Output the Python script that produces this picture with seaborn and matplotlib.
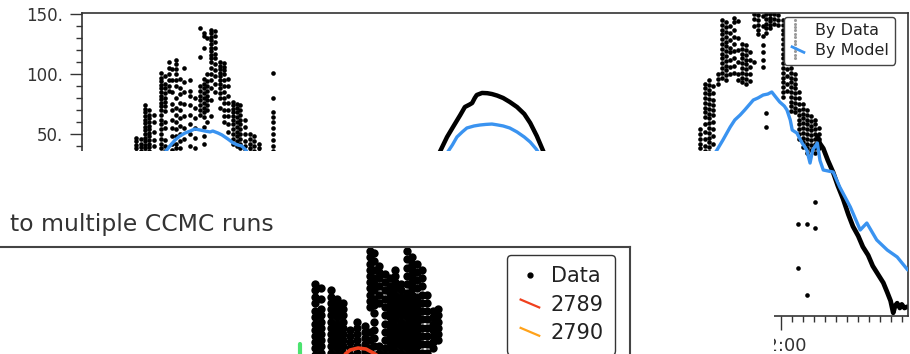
import numpy as np
import pandas as pd
import matplotlib
matplotlib.use("Agg")
import matplotlib.pyplot as plt
import seaborn as sns
from matplotlib.lines import Line2D
from matplotlib.patches import Rectangle
from matplotlib.legend_handler import HandlerBase
from matplotlib.ticker import MultipleLocator, FuncFormatter

sns.set_style("white")
plt.rcParams['font.family'] = ['DejaVu Sans']

# ---------------- top chart data (x in hours, y in flux units) ----------------
c1_x = [2.23, 2.30, 2.37, 2.42, 2.50, 2.60, 2.67, 2.72, 2.78, 2.84, 2.89, 2.96, 3.05, 3.12, 3.19,
        3.25, 3.30, 3.37, 3.43, 3.50, 3.56, 3.62, 3.69, 3.75, 3.81, 3.88, 3.95, 4.02, 4.09, 4.30]
c1_y = [
    [47, 44, 41, 38, 35],
    [46, 42, 39, 36],
    [74, 71, 68, 65, 62, 59, 56, 53, 50, 47, 44, 41, 38, 35],
    [70, 66, 63, 60, 57, 54, 51, 48, 45, 42, 39, 36],
    [66, 60, 52, 45, 40],
    [101, 97, 94, 91, 88, 85, 82, 79, 76, 73, 70, 66, 62, 58, 54, 50, 46, 42, 38],
    [98, 92, 88, 84, 80, 77, 73, 69, 60, 55, 45, 40, 36],
    [110, 105, 100, 95, 90, 86],
    [104, 95, 85, 75, 70, 62, 55, 48, 42, 37],
    [112, 108, 104, 100, 95, 90, 80, 72, 66, 60, 54, 48, 42, 38],
    [96, 88, 83, 76, 70, 63, 57, 50, 44, 38],
    [105, 93, 85, 75, 65, 55, 46],
    [95, 86, 82, 74, 66, 58, 50, 40],
    [80, 72, 63, 55, 47, 38],
    [138, 114, 90, 86, 82, 78, 74, 70, 66],
    [134, 132, 122, 96, 92, 88, 84, 80, 76, 72, 68, 64, 56, 48, 42],
    [130, 100, 94, 90, 86, 82, 78, 74, 70, 60],
    [137, 134, 131, 128, 125, 122, 119, 116, 113, 110, 105, 100, 95, 88, 78, 65],
    [136, 132, 127, 122, 117, 113, 108, 103, 98, 92, 85],
    [110, 107, 104, 101, 98, 95, 92, 88, 84, 80, 72],
    [109, 106, 103, 100, 95, 90, 85, 80, 76, 70, 65, 60],
    [96, 90, 82, 76, 70, 65, 58, 52],
    [77, 74, 71, 68, 65, 62, 58, 54, 50, 46, 42],
    [75, 72, 68, 64, 60, 56, 52, 48, 44, 40],
    [74, 70, 66, 62, 58, 54, 50, 46, 42, 38],
    [62, 56, 50, 44, 40, 36],
    [50, 46, 42, 38, 35],
    [48, 44, 40, 36],
    [42, 38, 35],
    [101, 80, 68, 64, 60, 55, 50, 45, 40, 36],
]

c3_x = [10.78, 10.85, 10.91, 10.97, 11.05, 11.11, 11.17, 11.23, 11.29, 11.35, 11.41, 11.47, 11.53,
        11.59, 11.65, 11.72, 11.77, 11.83, 11.89, 11.95, 12.03, 12.09, 12.15, 12.21, 12.27, 12.33,
        12.39, 12.45, 12.51, 12.57]
c3_y = [
    [54, 50, 46, 42, 38],
    [92, 88, 84, 80, 76, 72, 68, 64, 58, 52, 46, 40, 36],
    [95, 91, 87, 83, 79, 75, 71, 67, 63, 59, 55, 51, 47, 43, 39, 35],
    [90, 84, 78, 74, 70, 66, 60, 54, 48, 42],
    [100, 96, 92],
    [145, 141, 137, 133, 129, 125, 121, 117, 113, 109, 105, 101, 97],
    [143, 139, 135, 131, 127, 123, 119, 115, 111, 107, 103, 99, 95],
    [140, 134, 128, 122, 118, 112, 106, 100],
    [147, 143, 137, 131, 125, 119, 113, 107, 101],
    [144, 130, 120, 110, 100, 95],
    [125, 121, 117, 113, 109, 105, 101, 97, 93],
    [124, 120, 116, 112, 108, 104, 100, 96, 92],
    [118, 112, 106, 100, 94],
    [150, 146, 140, 110],
    [149, 145, 141, 137, 133],
    [148, 140, 132, 124, 118, 112, 106],
    [150, 146, 142, 138, 134, 67.5, 56],
    [150, 147, 144, 141, 138],
    [150, 146, 142],
    [149, 145, 141],
    [145, 141, 137, 133, 129, 125, 121, 117, 113, 109, 105, 101, 97, 93, 89, 85, 81],
    [143, 138, 133, 128, 122, 116, 110, 104, 98, 92, 86],
    [125, 115, 105, 101, 97, 93, 89, 85, 81, 77, 73, 69],
    [100, 96, 92, 88, 84, 80, 76, 72, 68],
    [85, 80, 75, 70, 66, 62, 58, 54, 50, 46],
    [75, 71, 67, 63, 59, 55, 51, 47, 43, 39],
    [70, 66, 62, 58, 54, 50, 46, 42, 38, 34],
    [65, 61, 57, 53, 49, 45, 41, 37],
    [62, 58, 54, 50, 46, 42, 38, 34],
    [55, 50, 46, 42, 38],
]

stray_x = [12.26, 12.39, 12.52, 12.52, 12.26, 12.39]
stray_y = [-25.0, -25.0, -6.7, -28.3, -61.7, -84.2]

arc_x = [6.83, 6.94, 7.03, 7.14, 7.21, 7.28, 7.32, 7.36, 7.39, 7.47, 7.55, 7.62, 7.70, 7.79,
         7.89, 8.00, 8.11, 8.20, 8.30, 8.39, 8.44]
arc_y = [35, 47.5, 55.8, 65.8, 72.5, 74.5, 75.8, 80, 82.5, 84.2, 84.0, 83.3, 82.0, 80,
         76.7, 72.5, 66.7, 59.2, 48.3, 36.7, 30]

desc_x = [12.55, 12.59, 12.64, 12.71, 12.79, 12.86, 12.94, 13.02, 13.09, 13.17, 13.24, 13.32,
          13.39, 13.47, 13.55, 13.61, 13.66, 13.70, 13.73, 13.76, 13.80, 13.83, 13.87, 13.91]
desc_y = [48, 42, 38, 28, 18, 7, -4, -17, -27, -35, -44, -51,
          -60, -67, -74, -82, -89, -99, -93, -91, -95, -92, -95, -94]

m1_x = [2.59, 2.67, 2.74, 2.82, 2.89, 2.97, 3.05, 3.12, 3.20, 3.27, 3.35, 3.39, 3.47, 3.53,
        3.62, 3.70, 3.77, 3.83, 3.89, 3.95]
m1_y = [30, 35, 40, 45, 48.3, 50.8, 52.5, 54.2, 53.3, 52.5, 51.7, 52.5, 50.8, 49.2,
        45.8, 42.5, 40.8, 40, 36.7, 31.7]

m2_x = [6.92, 6.95, 7.02, 7.09, 7.17, 7.24, 7.35, 7.44, 7.53, 7.62, 7.70, 7.79, 7.89, 8.00,
        8.11, 8.20, 8.29, 8.35]
m2_y = [32.5, 35, 40.8, 47.5, 51.7, 55, 56.7, 57.5, 58.0, 58.3, 57.6, 56.7, 55, 51.7,
        47.5, 43.3, 37.5, 32.5]

m3_x = [10.95, 11.03, 11.12, 11.23, 11.30, 11.38, 11.45, 11.58, 11.65, 11.73, 11.80, 11.86,
        11.92, 11.98, 12.05, 12.09, 12.14, 12.17, 12.24, 12.32, 12.39, 12.44, 12.48, 12.55,
        12.59, 12.64, 12.79, 12.89, 13.05, 13.20, 13.30, 13.45, 13.61, 13.76, 13.92]
m3_y = [30, 36.7, 45, 55.8, 61.7, 65.8, 70, 78.3, 80, 82.5, 83.3, 85,
        80.8, 76.7, 73.3, 70, 61.7, 53.3, 50.8, 42.5, 36.7, 25.8, 36.7, 42.5,
        28, 20, 18.3, 5.8, -10.8, -30, -24.2, -38.3, -46.7, -52.5, -63.3]

# ---------------- lower (overlapping) chart data ----------------
d2_x = [6.82, 6.92, 7.08, 7.18, 7.28, 7.40, 7.52, 7.64, 7.72, 7.80, 7.88, 7.98, 8.06, 8.14,
        8.24, 8.34, 8.42, 8.50, 8.58, 8.66, 8.76, 8.84]
d2_y = [
    [164, 158, 152, 146, 138, 132, 126, 120, 114, 108, 102, 96],
    [160, 150, 140, 134, 128, 122, 116, 110, 104, 98],
    [158, 152, 146, 140, 134, 128, 122, 116, 110, 104, 98],
    [150, 144, 138, 132, 126, 120, 114, 108, 102, 96],
    [146, 140, 134, 128, 122, 116, 110, 104, 98],
    [120, 114, 108, 102, 96],
    [128, 122, 116, 110, 104, 98],
    [124, 118, 112, 106, 100, 96],
    [196, 190, 184, 178, 172, 166, 160, 154, 148, 142, 118, 110, 102, 96],
    [194, 186, 178, 170, 164, 158, 150, 144, 136, 128, 120, 112, 104, 96],
    [182, 176, 170, 162, 154, 146, 104, 98],
    [174, 166, 158, 150, 142, 134, 126, 118, 110, 102, 96],
    [170, 162, 156, 150, 144, 138, 132, 126, 120, 114, 108, 102, 96],
    [178, 172, 166, 160, 154, 148, 142, 136, 130, 124, 118, 112, 106, 100],
    [164, 158, 152, 146, 140, 134, 128, 122, 116, 110, 104, 98],
    [196, 188, 180, 172, 164, 156, 150, 144, 138, 132, 126, 120, 114, 108, 102, 96],
    [190, 184, 178, 172, 166, 160, 154, 148, 142, 136, 130, 124, 118, 112, 106, 100],
    [184, 176, 168, 160, 152, 146, 140, 134, 128, 122, 116, 110, 104, 98],
    [178, 170, 162, 154, 146, 138, 130, 122, 114, 106, 98],
    [154, 146, 138, 130, 122, 114, 106, 98],
    [138, 132, 126, 120, 114, 108, 102],
    [140, 134, 128, 122, 116, 110],
]
run2789_x = [7.32, 7.40, 7.53, 7.66, 7.78, 7.86]
run2789_y = [96.6, 100.5, 102.4, 101.4, 97.6, 94.7]
run_green_x = [6.58, 6.58]
run_green_y = [106, 80]

run_labels = ["2789", "2790"]
run_colors = ["#f0401e", "#ffa21a"]
green = "#4be36f"


def cols_df(xs, ys):
    rows = [(x, y) for x, col in zip(xs, ys) for y in col]
    return pd.DataFrame(rows, columns=["t", "v"])


W, H = 910, 354
fig = plt.figure(figsize=(W / 100, H / 100), dpi=100)
fig.patch.set_facecolor("white")

# ---------------- top chart ----------------
ax1 = fig.add_axes([82 / W, 38 / H, 826 / W, 303 / H])
ax1.set_zorder(0)
ax1.set_facecolor("white")
dot_kw = dict(color="black", s=11, linewidth=0, legend=False, ax=ax1, zorder=2)
sns.scatterplot(data=cols_df(c1_x, c1_y), x="t", y="v", **dot_kw)
sns.scatterplot(data=cols_df(c3_x, c3_y), x="t", y="v", **dot_kw)
sns.scatterplot(data=pd.DataFrame({"t": stray_x, "v": stray_y}), x="t", y="v", **dot_kw)
line_kw = dict(sort=False, estimator=None, legend=False, ax=ax1)
sns.lineplot(data=pd.DataFrame({"t": arc_x, "v": arc_y}), x="t", y="v", color="black", lw=3.2, zorder=2, **line_kw)
sns.lineplot(data=pd.DataFrame({"t": desc_x, "v": desc_y}), x="t", y="v", color="black", lw=3.4, zorder=2, **line_kw)
blue = "#3a93f0"
for mx, my in [(m1_x, m1_y), (m2_x, m2_y), (m3_x, m3_y)]:
    sns.lineplot(data=pd.DataFrame({"t": mx, "v": my}), x="t", y="v", color=blue, lw=2.4, zorder=3, **line_kw)

ax1.set_xlim(1.409, 13.924)
ax1.set_ylim(-101.67, 150.83)
ax1.set_xlabel("")
ax1.set_ylabel("")
ax1.yaxis.set_major_locator(MultipleLocator(50))
ax1.yaxis.set_minor_locator(MultipleLocator(10))
ax1.yaxis.set_major_formatter(FuncFormatter(lambda v, p: f"{int(round(v))}."))
ax1.xaxis.set_major_locator(MultipleLocator(2))
ax1.xaxis.set_minor_locator(MultipleLocator(1 / 6))
ax1.xaxis.set_major_formatter(FuncFormatter(lambda v, p: f"{int(round(v))}:00"))
for s in ax1.spines.values():
    s.set_color("#333333")
    s.set_linewidth(1.2)
ax1.tick_params(which="both", direction="out", color="#333333", width=1.0)
ax1.tick_params(axis="y", which="major", length=9, pad=5, labelsize=12, labelcolor="#333333", left=True)
ax1.tick_params(axis="y", which="minor", length=4.5, left=True)
ax1.tick_params(axis="x", which="major", length=10, pad=5, labelsize=13, labelcolor="#333333", bottom=True)
ax1.tick_params(axis="x", which="minor", length=4.5, bottom=True)


class DiagHandler(HandlerBase):
    def create_artists(self, legend, orig_handle, xdescent, ydescent, width, height, fontsize, trans):
        x0, y0 = -xdescent, -ydescent
        ln = Line2D([x0 + 0.05 * width, x0 + 0.95 * width], [y0 + 0.8 * height, y0 + 0.2 * height],
                    color=orig_handle.get_color(), lw=orig_handle.get_linewidth(), solid_capstyle="butt")
        ln.set_transform(trans)
        return [ln]


class DotColumnHandler(HandlerBase):
    def create_artists(self, legend, orig_handle, xdescent, ydescent, width, height, fontsize, trans):
        x0, y0 = -xdescent, -ydescent
        yc = y0 + height / 2
        offs = [7, 4.5, 2, -0.5, -3, -5.5, -8, -10.5, -13, -15.5, -18, -20.5]
        ln = Line2D([x0 + 0.3 * width] * len(offs), [yc + o for o in offs], ls="none",
                    marker="o", ms=2.2, color="#9a9a9a", mec="none")
        ln.set_transform(trans)
        return [ln]


h_data = Line2D([], [], color="#9a9a9a")
h_model = Line2D([], [], color=blue, lw=2.0)
leg1 = ax1.legend([h_data, h_model], ["By Data", "By Model"],
                  handler_map={h_data: DotColumnHandler(), h_model: DiagHandler()},
                  loc="upper right", bbox_to_anchor=(895 / W, 1 - 17 / H), bbox_transform=fig.transFigure,
                  borderaxespad=0, fontsize=11.5, handlelength=1.0, handletextpad=0.55,
                  labelspacing=0.3, borderpad=0.4, frameon=True, fancybox=True, framealpha=1)
leg1.get_frame().set_edgecolor("#444444")
leg1.get_frame().set_linewidth(1.0)
for t in leg1.get_texts():
    t.set_color("#222222")

# ---------------- overlapping window ----------------
cover = Rectangle((0, 0), 774 / W, (H - 151) / H, transform=fig.transFigure,
                  facecolor="white", edgecolor="none", zorder=1)
fig.add_artist(cover)

ax2 = fig.add_axes([-100 / W, -100 / H, 730 / W, 207 / H])
ax2.set_zorder(2)
ax2.set_facecolor("white")
sns.scatterplot(data=cols_df(d2_x, d2_y), x="t", y="v", color="black", s=36, linewidth=0,
                legend=False, ax=ax2, zorder=2)
sns.lineplot(data=pd.DataFrame({"t": run2789_x, "v": run2789_y}), x="t", y="v", color=run_colors[0],
             lw=2.6, sort=False, estimator=None, legend=False, ax=ax2, zorder=3)
sns.lineplot(data=pd.DataFrame({"t": run_green_x, "v": run_green_y}), x="t", y="v", color=green,
             lw=3.0, sort=False, estimator=None, legend=False, ax=ax2, zorder=3)
ax2.set_xlim(0, 12)
ax2.set_ylim(0, 200)
ax2.set_xlabel("")
ax2.set_ylabel("")
ax2.set_xticks([])
ax2.set_yticks([])
for s in ax2.spines.values():
    s.set_color("#444444")
    s.set_linewidth(1.5)

hd = Line2D([], [], ls="none", marker="o", ms=3.5, color="black")
hr = [Line2D([], [], color=c, lw=1.6) for c in run_colors]
leg2 = ax2.legend([hd] + hr, ["Data"] + run_labels,
                  handler_map={h: DiagHandler() for h in hr},
                  loc="upper left", bbox_to_anchor=(507 / W, 1 - 255 / H), bbox_transform=fig.transFigure,
                  borderaxespad=0, fontsize=15, handlelength=1.1, handletextpad=0.45,
                  labelspacing=0.4, borderpad=0.55, frameon=True, fancybox=True, framealpha=1)
leg2.get_frame().set_edgecolor("#333333")
leg2.get_frame().set_linewidth(1.0)
for t in leg2.get_texts():
    t.set_color("#222222")

fig.text(10 / W, 1 - 224 / H, "to multiple CCMC runs", ha="left", va="center",
         fontsize=16.9, color="#333333", zorder=3)

fig.savefig("out.png", dpi=100, facecolor="white")
